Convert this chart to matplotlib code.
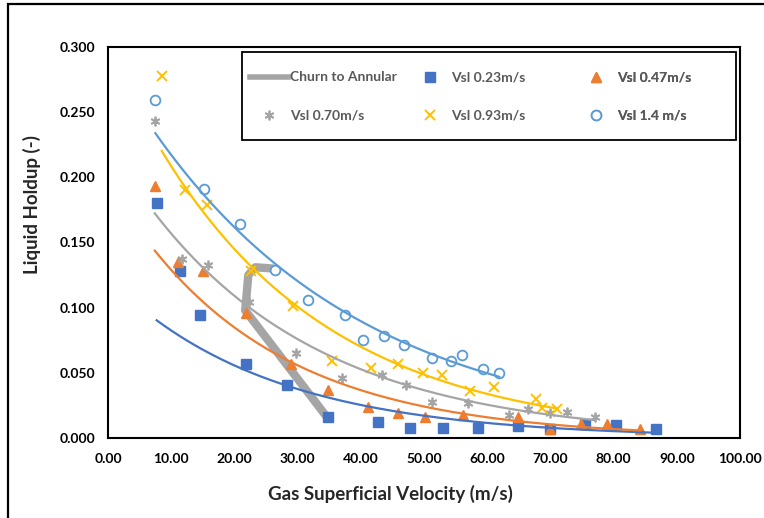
import numpy as np
import matplotlib.pyplot as plt
from matplotlib.patches import Rectangle
from matplotlib.lines import Line2D

plt.rcParams['font.family'] = ['Lato', 'DejaVu Sans']
plt.rcParams['font.weight'] = 'bold'

# data
churn_x = [34.8, 21.7, 21.9, 22.2, 23.3, 26.2]
churn_y = [0.015, 0.098, 0.108, 0.125, 0.131, 0.130]

vsl023_x = [7.7, 11.4, 14.6, 21.8, 28.4, 34.8, 42.8, 47.8, 53.0, 58.5, 64.8, 69.9, 75.5, 80.4, 86.7]
vsl023_y = [0.180, 0.128, 0.094, 0.057, 0.041, 0.016, 0.012, 0.008, 0.008, 0.008, 0.009, 0.007, 0.011, 0.010, 0.007]

vsl047_x = [7.4, 11.0, 15.1, 21.8, 28.9, 34.8, 41.1, 45.9, 50.2, 56.1, 64.8, 69.9, 74.9, 78.9, 84.2]
vsl047_y = [0.193, 0.135, 0.128, 0.096, 0.057, 0.037, 0.024, 0.019, 0.016, 0.018, 0.016, 0.007, 0.011, 0.011, 0.007]

vsl070_x = [7.4, 11.7, 15.9, 22.3, 29.7, 37.0, 43.3, 47.2, 51.2, 57.0, 63.5, 66.5, 69.9, 72.6, 77.1]
vsl070_y = [0.243, 0.137, 0.133, 0.104, 0.065, 0.046, 0.048, 0.041, 0.028, 0.027, 0.018, 0.022, 0.019, 0.020, 0.016]

vsl093_x = [8.5, 12.2, 15.6, 22.6, 29.2, 35.4, 41.6, 45.9, 49.8, 52.9, 57.2, 61.0, 67.8, 68.6, 71.1]
vsl093_y = [0.278, 0.190, 0.179, 0.128, 0.101, 0.059, 0.054, 0.057, 0.050, 0.048, 0.036, 0.039, 0.030, 0.023, 0.022]

vsl14_x = [7.5, 15.2, 20.9, 26.5, 31.7, 37.5, 40.4, 43.6, 46.9, 51.3, 54.3, 56.0, 59.4, 61.9]
vsl14_y = [0.259, 0.191, 0.164, 0.129, 0.106, 0.094, 0.075, 0.078, 0.071, 0.061, 0.059, 0.064, 0.053, 0.050]

x_ticks = np.arange(0, 101, 10)
y_ticks = np.arange(0, 0.301, 0.05)


def exp_trend(x, y):
    # exponential trendline, fitted like Excel does (linear in log y)
    b, a = np.polyfit(x, np.log(y), 1)
    xs = np.linspace(min(x), max(x), 200)
    return xs, np.exp(a + b * xs)


fig = plt.figure(figsize=(7.64, 5.18), dpi=100)
ax = fig.add_axes([108 / 764, 80 / 518, 632 / 764, 391 / 518])

# outer chart border
fig.patches.append(Rectangle((8 / 764, -0.05), 1.0, 1 - 4 / 518 + 0.05, transform=fig.transFigure,
                             fill=False, edgecolor='black', linewidth=1.6))

ax.plot(churn_x, churn_y, color='#A5A5A5', lw=6, solid_joinstyle='round', solid_capstyle='butt', zorder=2)

series = [
    (vsl023_x, vsl023_y, '#4472C4', dict(marker='s', ms=6.5, mfc='#4472C4', mec='#4472C4')),
    (vsl047_x, vsl047_y, '#ED7D31', dict(marker='^', ms=7, mfc='#ED7D31', mec='#ED7D31')),
    (vsl070_x, vsl070_y, '#A5A5A5', dict(marker=(6, 2, 0), ms=7, mec='#A5A5A5', mew=1.3)),
    (vsl093_x, vsl093_y, '#FFC000', dict(marker='x', ms=6.5, mec='#FFC000', mew=1.4)),
    (vsl14_x, vsl14_y, '#5B9BD5', dict(marker='o', ms=7, mfc='white', mec='#5B9BD5', mew=1.3)),
]
for x, y, c, mk in series:
    ax.plot(x, y, ls='none', zorder=3, **mk)
    tx, ty = exp_trend(x, y)
    ax.plot(tx, ty, color=c, lw=1.6, zorder=4)

ax.set_xlim(0, 100)
ax.set_ylim(0, 0.3)
ax.set_xticks(x_ticks)
ax.set_xticklabels([f'{v:.2f}' for v in x_ticks])
ax.set_yticks(y_ticks)
ax.set_yticklabels([f'{v:.3f}' for v in y_ticks])
ax.tick_params(length=0, labelsize=10, colors='black')
ax.tick_params(axis='x', pad=11)
ax.tick_params(axis='y', pad=9)
for s in ax.spines.values():
    s.set_linewidth(1.5)
    s.set_color('black')

fig.text(390 / 764, 1 - 494 / 518, 'Gas Superficial Velocity (m/s)', ha='center', va='center',
         fontsize=13.5, color='#262626')
fig.text(32 / 764, 1 - 205 / 518, 'Liquid Holdup (-)', ha='center', va='center', rotation=90,
         fontsize=13.5, color='#262626')

# legend box + three columns
ax.add_patch(Rectangle((0.212, 0.762), 0.7817, 0.225, transform=ax.transAxes, facecolor='white',
                       edgecolor='black', linewidth=1.3, zorder=5))

h_churn = Line2D([], [], color='#A5A5A5', lw=4)
h = [Line2D([], [], ls='none', **mk) for *_, mk in series]
cols = [
    ([h_churn, h[2]], ['Churn to Annular', 'Vsl 0.70m/s'], 0.2247),
    ([h[0], h[3]], ['Vsl 0.23m/s', 'Vsl 0.93m/s'], 0.4794),
    ([h[1], h[4]], ['Vsl 0.47m/s', 'Vsl 1.4 m/s'], 0.742),
]
for handles, labels, xa in cols:
    leg = ax.legend(handles, labels, loc='center left', bbox_to_anchor=(xa, 0.873), frameon=False,
                    borderpad=0, borderaxespad=0, handlelength=2.7, handletextpad=0.2,
                    labelspacing=1.9, fontsize=10, labelcolor='#595959')
    leg.set_zorder(6)
    ax.add_artist(leg)

fig.savefig('out.png', dpi=100)
